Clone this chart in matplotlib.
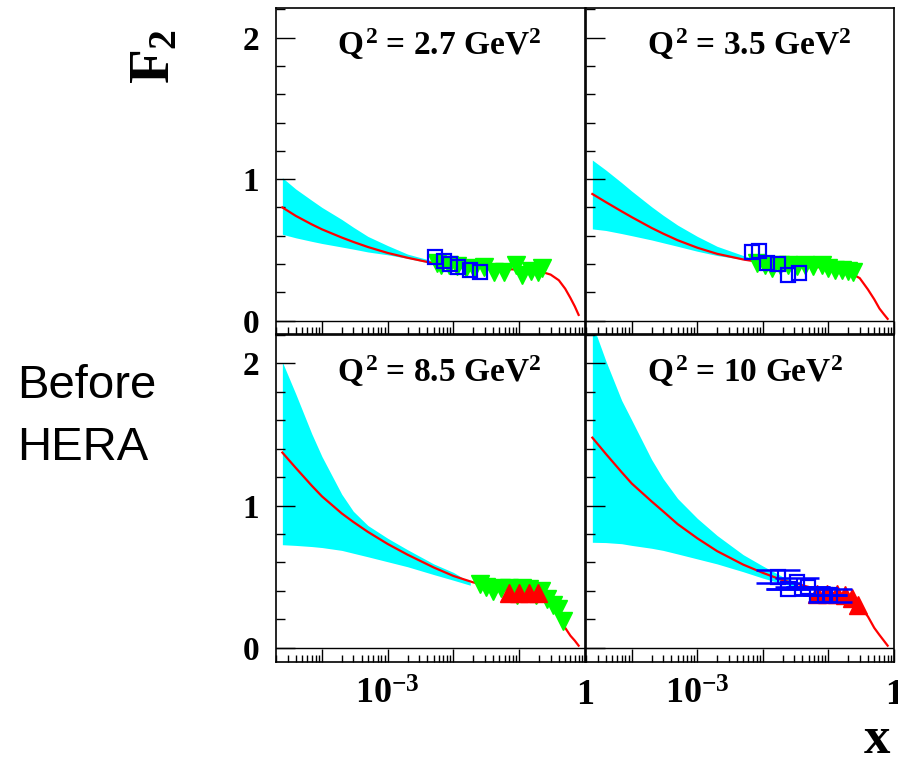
import numpy as np
import matplotlib
matplotlib.use("Agg")
import matplotlib.pyplot as plt
from matplotlib.ticker import LogLocator, MultipleLocator, NullFormatter, FixedLocator

plt.rcParams['font.family'] = ['Liberation Serif', 'DejaVu Serif']
plt.rcParams['font.weight'] = 'bold'
plt.rcParams['mathtext.fontset'] = 'custom'
plt.rcParams['mathtext.rm'] = 'Liberation Serif:bold'
plt.rcParams['mathtext.bf'] = 'Liberation Serif:bold'
plt.rcParams['mathtext.it'] = 'Liberation Serif:bold'

# ---------------- data ----------------
Q2_LABELS = ["2.7", "3.5", "8.5", "10"]

# fitted F2 curve, sampled on a common x grid
CURVE_X = [2.5e-5, 4e-5, 7e-5, 1e-4, 2e-4, 3e-4, 5e-4, 1e-3, 2e-3, 5e-3, 1e-2,
           2e-2, 5e-2, 0.1, 0.2, 0.3, 0.4, 0.5, 0.6, 0.7, 0.8]
FIT_Q2_2P7 = [0.80, 0.74, 0.68, 0.645, 0.587, 0.556, 0.52, 0.478, 0.444, 0.405, 0.385,
              0.376, 0.366, 0.36, 0.35, 0.325, 0.285, 0.225, 0.16, 0.10, 0.04]
FIT_Q2_3P5 = [0.895, 0.838, 0.772, 0.731, 0.655, 0.615, 0.568, 0.515, 0.472, 0.432, 0.41,
              0.398, 0.385, 0.37, 0.345, 0.30, 0.22, 0.15, 0.085, 0.045, 0.012]
FIT_Q2_8P5 = [1.373, 1.265, 1.14, 1.065, 0.945, 0.885, 0.815, 0.73, 0.655, 0.565, 0.505,
              0.46, 0.42, 0.40, 0.37, 0.30, 0.22, 0.14, 0.085, 0.05, 0.015]
FIT_Q2_10 = [1.478, 1.365, 1.235, 1.155, 1.03, 0.96, 0.87, 0.77, 0.68, 0.585, 0.527,
             0.475, 0.428, 0.395, 0.355, 0.295, 0.22, 0.14, 0.09, 0.05, 0.015]

# uncertainty band of the extrapolation
BAND_X_Q2_2P7 = [2.5e-5, 4e-5, 7e-5, 1e-4, 2e-4, 3e-4, 5e-4, 1e-3, 2e-3, 5e-3]
BAND_HI_Q2_2P7 = [1.01, 0.93, 0.85, 0.80, 0.715, 0.66, 0.595, 0.53, 0.47, 0.42]
BAND_LO_Q2_2P7 = [0.61, 0.585, 0.56, 0.545, 0.52, 0.505, 0.485, 0.465, 0.44, 0.40]

BAND_X_Q2_3P5 = [2.5e-5, 4e-5, 7e-5, 1e-4, 2e-4, 3e-4, 5e-4, 1e-3, 2e-3, 5e-3, 7e-3]
BAND_HI_Q2_3P5 = [1.135, 1.065, 0.975, 0.915, 0.805, 0.745, 0.675, 0.595, 0.525, 0.46, 0.44]
BAND_LO_Q2_3P5 = [0.648, 0.637, 0.615, 0.60, 0.57, 0.55, 0.525, 0.49, 0.46, 0.432, 0.42]

BAND_X_Q2_8P5 = [2.5e-5, 4e-5, 7e-5, 1e-4, 2e-4, 3e-4, 5e-4, 1e-3, 2e-3, 5e-3, 1e-2, 1.8e-2]
BAND_HI_Q2_8P5 = [2.01, 1.785, 1.505, 1.345, 1.08, 0.96, 0.86, 0.77, 0.69, 0.59, 0.53, 0.46]
BAND_LO_Q2_8P5 = [0.725, 0.72, 0.712, 0.705, 0.685, 0.665, 0.64, 0.605, 0.57, 0.515, 0.475, 0.44]

BAND_X_Q2_10 = [2.5e-5, 4e-5, 7e-5, 1e-4, 2e-4, 3e-4, 5e-4, 1e-3, 2e-3, 5e-3, 1e-2, 2e-2, 3.2e-2]
BAND_HI_Q2_10 = [2.28, 2.02, 1.74, 1.60, 1.325, 1.19, 1.05, 0.91, 0.79, 0.655, 0.575, 0.50, 0.46]
BAND_LO_Q2_10 = [0.742, 0.74, 0.732, 0.72, 0.70, 0.685, 0.66, 0.625, 0.59, 0.535, 0.49, 0.45, 0.43]

# open squares
SQ_X_Q2_2P7 = [5.3e-3, 7.1e-3, 9.0e-3, 1.19e-2, 1.78e-2, 2.5e-2]
SQ_Y_Q2_2P7 = [0.447, 0.419, 0.403, 0.38, 0.36, 0.344]
SQ_X_Q2_3P5 = [6.8e-3, 8.8e-3, 1.17e-2, 1.72e-2, 2.45e-2, 3.5e-2]
SQ_Y_Q2_3P5 = [0.485, 0.493, 0.41, 0.403, 0.322, 0.335]
SQ_X_Q2_10 = [0.0172, 0.0245, 0.0329, 0.0483, 0.0664, 0.0889, 0.106]
SQ_Y_Q2_10 = [0.50, 0.41, 0.46, 0.43, 0.37, 0.37, 0.37]
SQ_ERR_Q2_10 = [0.045, 0.0, 0.03, 0.0, 0.0, 0.0, 0.045]

# downward triangles
TDN_X_Q2_2P7 = [5.7e-3, 6.4e-3, 8.5e-3, 1.15e-2, 1.53e-2, 2.05e-2, 2.92e-2, 4.14e-2,
                5.89e-2, 8.89e-2, 0.112, 0.15, 0.19, 0.22]
TDN_Y_Q2_2P7 = [0.408, 0.396, 0.391, 0.384, 0.372, 0.365, 0.377, 0.344,
                0.344, 0.391, 0.32, 0.353, 0.344, 0.372]
TDN_X_Q2_3P5 = [8.1e-3, 1.08e-2, 1.36e-2, 1.83e-2, 2.45e-2, 3.3e-2, 4.4e-2, 5.9e-2,
                7.9e-2, 0.1, 0.126, 0.16, 0.2, 0.24]
TDN_Y_Q2_3P5 = [0.41, 0.395, 0.375, 0.39, 0.395, 0.385, 0.395, 0.385,
                0.39, 0.37, 0.36, 0.355, 0.35, 0.345]
TDN_X_Q2_8P5 = [0.0251, 0.0316, 0.0398, 0.0525, 0.0708, 0.0933, 0.112, 0.141,
                0.178, 0.214, 0.263, 0.324, 0.39, 0.459]
TDN_Y_Q2_8P5 = [0.45, 0.43, 0.40, 0.42, 0.42, 0.37, 0.42, 0.41,
                0.37, 0.40, 0.34, 0.30, 0.27, 0.19]

# upward triangles
TUP_X_Q2_8P5 = [0.0703, 0.1, 0.142, 0.19]
TUP_Y_Q2_8P5 = [0.385, 0.385, 0.385, 0.385]
TUP_X_Q2_10 = [0.066, 0.094, 0.134, 0.18, 0.227, 0.286]
TUP_Y_Q2_10 = [0.375, 0.375, 0.38, 0.37, 0.35, 0.30]

panels = [
    dict(q2=Q2_LABELS[0], fit=FIT_Q2_2P7, bx=BAND_X_Q2_2P7, bhi=BAND_HI_Q2_2P7, blo=BAND_LO_Q2_2P7,
         sqx=SQ_X_Q2_2P7, sqy=SQ_Y_Q2_2P7, sqe=None,
         tdx=TDN_X_Q2_2P7, tdy=TDN_Y_Q2_2P7, tux=None, tuy=None),
    dict(q2=Q2_LABELS[1], fit=FIT_Q2_3P5, bx=BAND_X_Q2_3P5, bhi=BAND_HI_Q2_3P5, blo=BAND_LO_Q2_3P5,
         sqx=SQ_X_Q2_3P5, sqy=SQ_Y_Q2_3P5, sqe=None,
         tdx=TDN_X_Q2_3P5, tdy=TDN_Y_Q2_3P5, tux=None, tuy=None),
    dict(q2=Q2_LABELS[2], fit=FIT_Q2_8P5, bx=BAND_X_Q2_8P5, bhi=BAND_HI_Q2_8P5, blo=BAND_LO_Q2_8P5,
         sqx=None, sqy=None, sqe=None,
         tdx=TDN_X_Q2_8P5, tdy=TDN_Y_Q2_8P5, tux=TUP_X_Q2_8P5, tuy=TUP_Y_Q2_8P5),
    dict(q2=Q2_LABELS[3], fit=FIT_Q2_10, bx=BAND_X_Q2_10, bhi=BAND_HI_Q2_10, blo=BAND_LO_Q2_10,
         sqx=SQ_X_Q2_10, sqy=SQ_Y_Q2_10, sqe=SQ_ERR_Q2_10,
         tdx=None, tdy=None, tux=TUP_X_Q2_10, tuy=TUP_Y_Q2_10),
]

# ---------------- layout ----------------
W, H = 898, 762
fig = plt.figure(figsize=(W / 100, H / 100), dpi=100)
fig.patch.set_facecolor('white')

cols = [(276, 309), (586, 308)]          # left, width in px
rows = [(8, 334, -0.095, 2.21), (335, 662, -0.10, 2.20)]  # top, bottom px, y-range

CYAN = '#00ffff'
GREEN = '#00ff00'
BLUE = '#0000ff'
RED = '#ff0000'
PT = 72 / 100  # points per pixel

for i, p in enumerate(panels):
    r, c = divmod(i, 2)
    x0, w = cols[c]
    top, bot, ylo, yhi = rows[r]
    ax = fig.add_axes([x0 / W, 1 - bot / H, w / W, (bot - top) / H])
    ax.set_xscale('log')
    ax.set_xlim(2e-5, 1)
    ax.set_ylim(ylo, yhi)

    ax.fill_between(p['bx'], p['blo'], p['bhi'], color=CYAN, lw=0, zorder=1)
    ax.plot(CURVE_X, p['fit'], color=RED, lw=1.6, zorder=2)
    ax.axhline(0, color='black', lw=1.0, zorder=2)

    if p['tdx'] is not None:
        ax.plot(p['tdx'], p['tdy'], ls='none', marker='v', ms=12.5, color=GREEN,
                mec=GREEN, zorder=3)
    if p['tux'] is not None:
        ax.plot(p['tux'], p['tuy'], ls='none', marker='^', ms=12.5, color=RED,
                mec=RED, zorder=4)
    if p['sqx'] is not None:
        if p['sqe'] is not None:
            ax.errorbar(p['sqx'], p['sqy'], yerr=p['sqe'], fmt='none', ecolor=BLUE,
                        elinewidth=1.5, capsize=16, capthick=1.8, zorder=5)
        ax.plot(p['sqx'], p['sqy'], ls='none', marker='s', ms=10, mfc='none',
                mec=BLUE, mew=1.6, zorder=6)

    ax.text(0.198, 0.855, r'$Q^2$ = %s GeV$^2$' % p['q2'], transform=ax.transAxes,
            ha='left', va='baseline', fontsize=24, fontweight='bold')

    # x axis: decades with minor ticks, ticks pointing inward from the bottom
    ax.xaxis.set_major_locator(FixedLocator([1e-4, 1e-3, 1e-2, 1e-1, 1.0]))
    if r == 1:
        ax.set_xticklabels(['', r'$10^{-3}$', '', '', '1'])
    else:
        ax.set_xticklabels(['', '', '', '', ''])
    ax.xaxis.set_minor_locator(LogLocator(base=10, subs=np.arange(2, 10), numticks=20))
    ax.xaxis.set_minor_formatter(NullFormatter())
    ax.tick_params(axis='x', which='major', direction='in', length=13 * PT, width=1.0,
                   labelsize=26, pad=12, top=False)
    ax.tick_params(axis='x', which='minor', direction='in', length=7 * PT, width=1.0,
                   top=False)

    # y axis
    ax.yaxis.set_major_locator(FixedLocator([0, 1, 2]))
    ax.yaxis.set_minor_locator(MultipleLocator(0.2))
    if c == 0:
        ax.set_yticklabels(['0', '1', '2'])
    else:
        ax.set_yticklabels(['', '', ''])
    ax.tick_params(axis='y', which='major', direction='in', length=19 * PT, width=1.0,
                   labelsize=24, pad=12, right=False)
    ax.tick_params(axis='y', which='minor', direction='in', length=9 * PT, width=1.0,
                   right=False)
    for lab in ax.get_xticklabels() + ax.get_yticklabels():
        lab.set_fontweight('bold')
    for s in ax.spines.values():
        s.set_linewidth(1.2)

fig.text(155 / W, 1 - 57 / H, r'$F_2$', rotation=90, ha='center', va='center',
         fontsize=41)
fig.text(17 / W, 1 - 398 / H, 'Before', ha='left', va='baseline', fontsize=34,
         family='Liberation Sans', fontweight='normal')
fig.text(17 / W, 1 - 460 / H, 'HERA', ha='left', va='baseline', fontsize=34,
         family='Liberation Sans', fontweight='normal')
fig.text(877 / W, 1 - 753 / H, 'x', ha='center', va='baseline', fontsize=38,
         fontweight='bold')

fig.savefig('out.png', dpi=100, facecolor='white')
